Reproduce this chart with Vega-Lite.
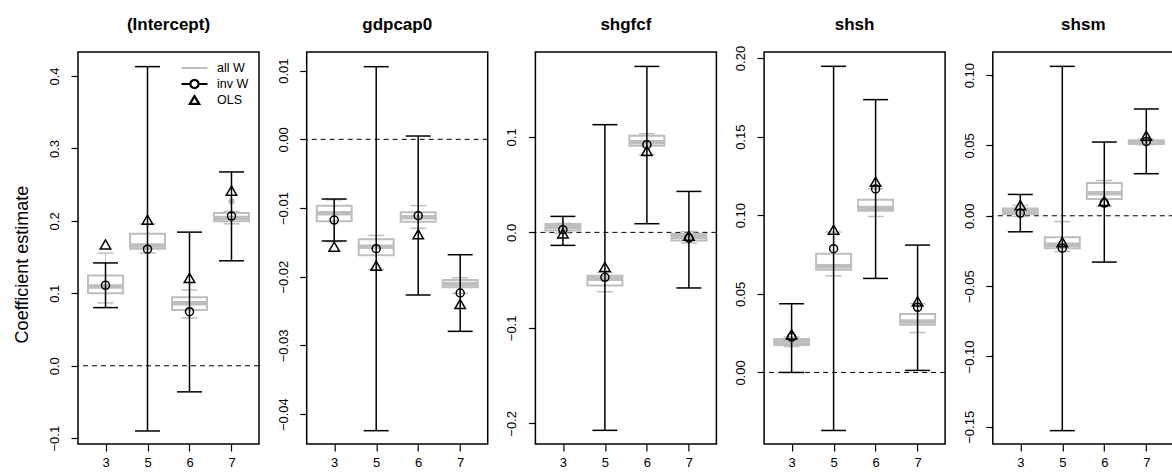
{
  "$schema": "https://vega.github.io/schema/vega-lite/v6.json",
  "padding": {"left": 12, "top": 14, "right": 0, "bottom": 0},
  "bounds": "flush",
  "spacing": 47.7,
  "resolve": {"legend": {"opacity": "independent"}},
  "config": {
    "font": "Liberation Sans",
    "view": {"stroke": "black", "strokeWidth": 1.5},
    "title": {"font": "Liberation Sans", "fontSize": 17, "fontWeight": "bold", "color": "black", "offset": 18, "anchor": "middle", "frame": "group"},
    "axis": {"domain": false, "grid": false, "tickColor": "black", "tickWidth": 1.2, "labelColor": "black", "labelFont": "Liberation Sans", "labelFontSize": 13, "titleFont": "Liberation Sans", "titleColor": "black"},
    "axisY": {"labelAngle": 270, "labelAlign": "center", "labelBaseline": "alphabetic", "tickSize": 7, "labelPadding": 12.5, "labelOverlap": false, "labelFlush": false, "titleFontSize": 18, "titleFontWeight": "normal"},
    "axisX": {"labelAngle": 0, "tickSize": 7, "labelPadding": 5, "labelBaseline": "top"}
  },
  "datasets": {
    "box": [
      {"coef": "(Intercept)", "k": "3", "lo": 0.0868, "q1": 0.100, "med": 0.1095, "q3": 0.1246, "hi": 0.1555},
      {"coef": "(Intercept)", "k": "5", "lo": 0.1555, "q1": 0.1615, "med": 0.166, "q3": 0.1822, "hi": 0.196},
      {"coef": "(Intercept)", "k": "6", "lo": 0.066, "q1": 0.077, "med": 0.0863, "q3": 0.0946, "hi": 0.1047},
      {"coef": "(Intercept)", "k": "7", "lo": 0.196, "q1": 0.1997, "med": 0.204, "q3": 0.2108, "hi": 0.213},
      {"coef": "gdpcap0", "k": "3", "lo": -0.0149, "q1": -0.01194, "med": -0.01077, "q3": -0.00966, "hi": -0.0088},
      {"coef": "gdpcap0", "k": "5", "lo": -0.01893, "q1": -0.01689, "med": -0.01563, "q3": -0.01456, "hi": -0.01398},
      {"coef": "gdpcap0", "k": "6", "lo": -0.01296, "q1": -0.012, "med": -0.01135, "q3": -0.01063, "hi": -0.00966},
      {"coef": "gdpcap0", "k": "7", "lo": -0.02242, "q1": -0.02155, "med": -0.02106, "q3": -0.02048, "hi": -0.02015},
      {"coef": "shgfcf", "k": "3", "lo": -0.001, "q1": 0.0021, "med": 0.0056, "q3": 0.0088, "hi": 0.0095},
      {"coef": "shgfcf", "k": "5", "lo": -0.0621, "q1": -0.0555, "med": -0.0485, "q3": -0.0453, "hi": -0.0419},
      {"coef": "shgfcf", "k": "6", "lo": 0.0814, "q1": 0.0908, "med": 0.0945, "q3": 0.1013, "hi": 0.1033},
      {"coef": "shgfcf", "k": "7", "lo": -0.0111, "q1": -0.0084, "med": -0.0048, "q3": -0.0017, "hi": 0.0007},
      {"coef": "shsh", "k": "3", "lo": 0.0165, "q1": 0.0174, "med": 0.0193, "q3": 0.0212, "hi": 0.0225},
      {"coef": "shsh", "k": "5", "lo": 0.0615, "q1": 0.0653, "med": 0.0675, "q3": 0.0755, "hi": 0.0893},
      {"coef": "shsh", "k": "6", "lo": 0.0992, "q1": 0.1029, "med": 0.1046, "q3": 0.1099, "hi": 0.1169},
      {"coef": "shsh", "k": "7", "lo": 0.0254, "q1": 0.0303, "med": 0.0324, "q3": 0.0371, "hi": 0.0437},
      {"coef": "shsm", "k": "3", "lo": -0.0005, "q1": 0.0012, "med": 0.0031, "q3": 0.0052, "hi": 0.0073},
      {"coef": "shsm", "k": "5", "lo": -0.0254, "q1": -0.023, "med": -0.0206, "q3": -0.0152, "hi": -0.0041},
      {"coef": "shsm", "k": "6", "lo": 0.0066, "q1": 0.0119, "med": 0.0161, "q3": 0.0233, "hi": 0.0251},
      {"coef": "shsm", "k": "7", "lo": 0.0505, "q1": 0.051, "med": 0.0521, "q3": 0.0536, "hi": 0.0545}
    ],
    "out": [
      {"coef": "(Intercept)", "k": "7", "value": 0.227}
    ],
    "est": [
      {"coef": "(Intercept)", "k": "3", "series": "inv W", "value": 0.111, "lower": 0.0803, "upper": 0.142},
      {"coef": "(Intercept)", "k": "5", "series": "inv W", "value": 0.161, "lower": -0.090, "upper": 0.413},
      {"coef": "(Intercept)", "k": "6", "series": "inv W", "value": 0.0747, "lower": -0.036, "upper": 0.1845},
      {"coef": "(Intercept)", "k": "7", "series": "inv W", "value": 0.2067, "lower": 0.1449, "upper": 0.2676},
      {"coef": "(Intercept)", "k": "3", "series": "OLS", "value": 0.1675},
      {"coef": "(Intercept)", "k": "5", "series": "OLS", "value": 0.2016},
      {"coef": "(Intercept)", "k": "6", "series": "OLS", "value": 0.1213},
      {"coef": "(Intercept)", "k": "7", "series": "OLS", "value": 0.2418},
      {"coef": "gdpcap0", "k": "3", "series": "inv W", "value": -0.01175, "lower": -0.0148, "upper": -0.00869},
      {"coef": "gdpcap0", "k": "5", "series": "inv W", "value": -0.01592, "lower": -0.04241, "upper": 0.01057},
      {"coef": "gdpcap0", "k": "6", "series": "inv W", "value": -0.01112, "lower": -0.02266, "upper": 0.00048},
      {"coef": "gdpcap0", "k": "7", "series": "inv W", "value": -0.02237, "lower": -0.02795, "upper": -0.0168},
      {"coef": "gdpcap0", "k": "3", "series": "OLS", "value": -0.01563},
      {"coef": "gdpcap0", "k": "5", "series": "OLS", "value": -0.0184},
      {"coef": "gdpcap0", "k": "6", "series": "OLS", "value": -0.01383},
      {"coef": "gdpcap0", "k": "7", "series": "OLS", "value": -0.02397},
      {"coef": "shgfcf", "k": "3", "series": "inv W", "value": 0.0028, "lower": -0.0136, "upper": 0.01675},
      {"coef": "shgfcf", "k": "5", "series": "inv W", "value": -0.0471, "lower": -0.2073, "upper": 0.1128},
      {"coef": "shgfcf", "k": "6", "series": "inv W", "value": 0.0918, "lower": 0.0091, "upper": 0.1738},
      {"coef": "shgfcf", "k": "7", "series": "inv W", "value": -0.0059, "lower": -0.0582, "upper": 0.0429},
      {"coef": "shgfcf", "k": "3", "series": "OLS", "value": -0.001},
      {"coef": "shgfcf", "k": "5", "series": "OLS", "value": -0.0362},
      {"coef": "shgfcf", "k": "6", "series": "OLS", "value": 0.0852},
      {"coef": "shgfcf", "k": "7", "series": "OLS", "value": -0.0035},
      {"coef": "shsh", "k": "3", "series": "inv W", "value": 0.0225, "lower": 0.0, "upper": 0.0437},
      {"coef": "shsh", "k": "5", "series": "inv W", "value": 0.0787, "lower": -0.0369, "upper": 0.1947},
      {"coef": "shsh", "k": "6", "series": "inv W", "value": 0.1167, "lower": 0.0598, "upper": 0.1735},
      {"coef": "shsh", "k": "7", "series": "inv W", "value": 0.0414, "lower": 0.0013, "upper": 0.081},
      {"coef": "shsh", "k": "3", "series": "OLS", "value": 0.0242},
      {"coef": "shsh", "k": "5", "series": "OLS", "value": 0.0908},
      {"coef": "shsh", "k": "6", "series": "OLS", "value": 0.1213},
      {"coef": "shsh", "k": "7", "series": "OLS", "value": 0.0452},
      {"coef": "shsm", "k": "3", "series": "inv W", "value": 0.0019, "lower": -0.0114, "upper": 0.0152},
      {"coef": "shsm", "k": "5", "series": "inv W", "value": -0.023, "lower": -0.1527, "upper": 0.1062},
      {"coef": "shsm", "k": "6", "series": "inv W", "value": 0.009, "lower": -0.0329, "upper": 0.0524},
      {"coef": "shsm", "k": "7", "series": "inv W", "value": 0.0528, "lower": 0.0299, "upper": 0.0759},
      {"coef": "shsm", "k": "3", "series": "OLS", "value": 0.0076},
      {"coef": "shsm", "k": "5", "series": "OLS", "value": -0.0187},
      {"coef": "shsm", "k": "6", "series": "OLS", "value": 0.0105},
      {"coef": "shsm", "k": "7", "series": "OLS", "value": 0.0569}
    ]
  },
  "hconcat": [
    {
      "width": 181, "height": 392,
      "title": {"text": "(Intercept)"},
      "layer": [
        {"data": {"values": [{"ref": 0}]}, "mark": {"type": "rule", "strokeDash": [5, 4], "color": "black", "strokeWidth": 1},
         "encoding": {"y": {"field": "ref", "type": "quantitative", "scale": {"domain": [-0.108, 0.4332], "nice": false, "zero": false},
           "axis": {"values": [-0.1, 0, 0.1, 0.2, 0.3, 0.4], "format": ".1f", "title": "Coefficient estimate", "titleFontSize": 18, "titleFontWeight": "normal", "titleX": -51, "titleY": 212, "titleAngle": 270, "titleAlign": "center", "titleBaseline": "alphabetic"}}}},
        {"data": {"name": "box"}, "transform": [{"filter": "datum.coef === '(Intercept)'"}], "mark": {"type": "rule", "color": "#BEBEBE", "strokeWidth": 1},
         "encoding": {"x": {"field": "k", "type": "ordinal", "scale": {"type": "point", "domain": ["3", "5", "6", "7"], "padding": 0.655}, "axis": {"title": null}}, "y": {"field": "lo", "type": "quantitative"}, "y2": {"field": "hi"}}},
        {"data": {"name": "box"}, "transform": [{"filter": "datum.coef === '(Intercept)'"}], "mark": {"type": "tick", "color": "#BEBEBE", "size": 16, "thickness": 1.5, "opacity": 1},
         "encoding": {"x": {"field": "k", "type": "ordinal", "scale": {"type": "point", "domain": ["3", "5", "6", "7"], "padding": 0.655}}, "y": {"field": "lo", "type": "quantitative"}}},
        {"data": {"name": "box"}, "transform": [{"filter": "datum.coef === '(Intercept)'"}], "mark": {"type": "tick", "color": "#BEBEBE", "size": 16, "thickness": 1.5, "opacity": 1},
         "encoding": {"x": {"field": "k", "type": "ordinal", "scale": {"type": "point", "domain": ["3", "5", "6", "7"], "padding": 0.655}}, "y": {"field": "hi", "type": "quantitative"}}},
        {"data": {"name": "box"}, "transform": [{"filter": "datum.coef === '(Intercept)'"}], "mark": {"type": "bar", "size": 35, "fill": "white", "stroke": "#BEBEBE", "strokeWidth": 2},
         "encoding": {"x": {"field": "k", "type": "ordinal", "scale": {"type": "point", "domain": ["3", "5", "6", "7"], "padding": 0.655}}, "y": {"field": "q1", "type": "quantitative"}, "y2": {"field": "q3"}}},
        {"data": {"name": "box"}, "transform": [{"filter": "datum.coef === '(Intercept)'"}], "mark": {"type": "tick", "color": "#BEBEBE", "size": 35, "thickness": 4.5, "opacity": 1},
         "encoding": {"x": {"field": "k", "type": "ordinal", "scale": {"type": "point", "domain": ["3", "5", "6", "7"], "padding": 0.655}}, "y": {"field": "med", "type": "quantitative"}}},
        {"data": {"name": "out"}, "transform": [{"filter": "datum.coef === '(Intercept)'"}], "mark": {"type": "point", "filled": true, "color": "#BEBEBE", "size": 40, "opacity": 1},
         "encoding": {"x": {"field": "k", "type": "ordinal", "scale": {"type": "point", "domain": ["3", "5", "6", "7"], "padding": 0.655}}, "y": {"field": "value", "type": "quantitative"}}},
        {"data": {"name": "est"}, "transform": [{"filter": "datum.coef === '(Intercept)' && datum.series === 'inv W'"}], "mark": {"type": "rule", "color": "black", "strokeWidth": 1.5},
         "encoding": {"x": {"field": "k", "type": "ordinal", "scale": {"type": "point", "domain": ["3", "5", "6", "7"], "padding": 0.655}}, "y": {"field": "lower", "type": "quantitative"}, "y2": {"field": "upper"}}},
        {"data": {"name": "est"}, "transform": [{"filter": "datum.coef === '(Intercept)' && datum.series === 'inv W'"}], "mark": {"type": "tick", "color": "black", "size": 25, "thickness": 1.5, "opacity": 1},
         "encoding": {"x": {"field": "k", "type": "ordinal", "scale": {"type": "point", "domain": ["3", "5", "6", "7"], "padding": 0.655}}, "y": {"field": "lower", "type": "quantitative"}}},
        {"data": {"name": "est"}, "transform": [{"filter": "datum.coef === '(Intercept)' && datum.series === 'inv W'"}], "mark": {"type": "tick", "color": "black", "size": 25, "thickness": 1.5, "opacity": 1},
         "encoding": {"x": {"field": "k", "type": "ordinal", "scale": {"type": "point", "domain": ["3", "5", "6", "7"], "padding": 0.655}}, "y": {"field": "upper", "type": "quantitative"}}},
        {"data": {"name": "est"}, "transform": [{"filter": "datum.coef === '(Intercept)' && datum.series === 'inv W'"}], "mark": {"type": "point", "shape": "circle", "filled": false, "color": "black", "size": 64, "strokeWidth": 1.5},
         "encoding": {"x": {"field": "k", "type": "ordinal", "scale": {"type": "point", "domain": ["3", "5", "6", "7"], "padding": 0.655}}, "y": {"field": "value", "type": "quantitative"},
           "opacity": {"field": "series", "type": "ordinal", "scale": {"type": "ordinal", "domain": ["all W", "inv W", "OLS"], "range": [1, 1, 1]},
             "legend": {"orient": "none", "legendX": 102, "legendY": 8, "title": null, "padding": 0, "symbolSize": 676, "clipHeight": 16, "rowPadding": 0, "labelFontSize": 12.5, "labelFont": "Liberation Sans", "labelColor": "black", "labelOffset": 8, "symbolStrokeWidth": 2.2, "symbolFillColor": "transparent", "symbolOpacity": 1,
               "symbolType": {"expr": "datum.value === 'all W' ? 'stroke' : datum.value === 'inv W' ? 'M-1,0L-0.32,0M0.32,0L1,0M0.32,0L0.277,0.16L0.16,0.277L0,0.32L-0.16,0.277L-0.277,0.16L-0.32,0L-0.277,-0.16L-0.16,-0.277L0,-0.32L0.16,-0.277L0.277,-0.16Z' : 'M0,-0.3L0.36,0.3L-0.36,0.3Z'"},
               "symbolStrokeColor": {"expr": "datum.value === 'all W' ? '#BEBEBE' : 'black'"}}}}},
        {"data": {"name": "est"}, "transform": [{"filter": "datum.coef === '(Intercept)' && datum.series === 'OLS'"}], "mark": {"type": "point", "shape": "triangle-up", "filled": false, "color": "black", "size": 110, "strokeWidth": 1.5, "opacity": 1},
         "encoding": {"x": {"field": "k", "type": "ordinal", "scale": {"type": "point", "domain": ["3", "5", "6", "7"], "padding": 0.655}}, "y": {"field": "value", "type": "quantitative"}}}
      ]
    },
    {
      "width": 181, "height": 392,
      "title": {"text": "gdpcap0"},
      "layer": [
        {"data": {"values": [{"ref": 0}]}, "mark": {"type": "rule", "strokeDash": [5, 4], "color": "black", "strokeWidth": 1},
         "encoding": {"y": {"field": "ref", "type": "quantitative", "scale": {"domain": [-0.04435, 0.01271], "nice": false, "zero": false},
           "axis": {"values": [-0.04, -0.03, -0.02, -0.01, 0, 0.01], "format": ".2f", "title": null}}}},
        {"data": {"name": "box"}, "transform": [{"filter": "datum.coef === 'gdpcap0'"}], "mark": {"type": "rule", "color": "#BEBEBE", "strokeWidth": 1},
         "encoding": {"x": {"field": "k", "type": "ordinal", "scale": {"type": "point", "domain": ["3", "5", "6", "7"], "padding": 0.655}, "axis": {"title": null}}, "y": {"field": "lo", "type": "quantitative"}, "y2": {"field": "hi"}}},
        {"data": {"name": "box"}, "transform": [{"filter": "datum.coef === 'gdpcap0'"}], "mark": {"type": "tick", "color": "#BEBEBE", "size": 16, "thickness": 1.5, "opacity": 1},
         "encoding": {"x": {"field": "k", "type": "ordinal", "scale": {"type": "point", "domain": ["3", "5", "6", "7"], "padding": 0.655}}, "y": {"field": "lo", "type": "quantitative"}}},
        {"data": {"name": "box"}, "transform": [{"filter": "datum.coef === 'gdpcap0'"}], "mark": {"type": "tick", "color": "#BEBEBE", "size": 16, "thickness": 1.5, "opacity": 1},
         "encoding": {"x": {"field": "k", "type": "ordinal", "scale": {"type": "point", "domain": ["3", "5", "6", "7"], "padding": 0.655}}, "y": {"field": "hi", "type": "quantitative"}}},
        {"data": {"name": "box"}, "transform": [{"filter": "datum.coef === 'gdpcap0'"}], "mark": {"type": "bar", "size": 35, "fill": "white", "stroke": "#BEBEBE", "strokeWidth": 2},
         "encoding": {"x": {"field": "k", "type": "ordinal", "scale": {"type": "point", "domain": ["3", "5", "6", "7"], "padding": 0.655}}, "y": {"field": "q1", "type": "quantitative"}, "y2": {"field": "q3"}}},
        {"data": {"name": "box"}, "transform": [{"filter": "datum.coef === 'gdpcap0'"}], "mark": {"type": "tick", "color": "#BEBEBE", "size": 35, "thickness": 4.5, "opacity": 1},
         "encoding": {"x": {"field": "k", "type": "ordinal", "scale": {"type": "point", "domain": ["3", "5", "6", "7"], "padding": 0.655}}, "y": {"field": "med", "type": "quantitative"}}},
        {"data": {"name": "est"}, "transform": [{"filter": "datum.coef === 'gdpcap0' && datum.series === 'inv W'"}], "mark": {"type": "rule", "color": "black", "strokeWidth": 1.5},
         "encoding": {"x": {"field": "k", "type": "ordinal", "scale": {"type": "point", "domain": ["3", "5", "6", "7"], "padding": 0.655}}, "y": {"field": "lower", "type": "quantitative"}, "y2": {"field": "upper"}}},
        {"data": {"name": "est"}, "transform": [{"filter": "datum.coef === 'gdpcap0' && datum.series === 'inv W'"}], "mark": {"type": "tick", "color": "black", "size": 25, "thickness": 1.5, "opacity": 1},
         "encoding": {"x": {"field": "k", "type": "ordinal", "scale": {"type": "point", "domain": ["3", "5", "6", "7"], "padding": 0.655}}, "y": {"field": "lower", "type": "quantitative"}}},
        {"data": {"name": "est"}, "transform": [{"filter": "datum.coef === 'gdpcap0' && datum.series === 'inv W'"}], "mark": {"type": "tick", "color": "black", "size": 25, "thickness": 1.5, "opacity": 1},
         "encoding": {"x": {"field": "k", "type": "ordinal", "scale": {"type": "point", "domain": ["3", "5", "6", "7"], "padding": 0.655}}, "y": {"field": "upper", "type": "quantitative"}}},
        {"data": {"name": "est"}, "transform": [{"filter": "datum.coef === 'gdpcap0' && datum.series === 'inv W'"}], "mark": {"type": "point", "shape": "circle", "filled": false, "color": "black", "size": 64, "strokeWidth": 1.5, "opacity": 1},
         "encoding": {"x": {"field": "k", "type": "ordinal", "scale": {"type": "point", "domain": ["3", "5", "6", "7"], "padding": 0.655}}, "y": {"field": "value", "type": "quantitative"}}},
        {"data": {"name": "est"}, "transform": [{"filter": "datum.coef === 'gdpcap0' && datum.series === 'OLS'"}], "mark": {"type": "point", "shape": "triangle-up", "filled": false, "color": "black", "size": 110, "strokeWidth": 1.5, "opacity": 1},
         "encoding": {"x": {"field": "k", "type": "ordinal", "scale": {"type": "point", "domain": ["3", "5", "6", "7"], "padding": 0.655}}, "y": {"field": "value", "type": "quantitative"}}}
      ]
    },
    {
      "width": 181, "height": 392,
      "title": {"text": "shgfcf"},
      "layer": [
        {"data": {"values": [{"ref": 0}]}, "mark": {"type": "rule", "strokeDash": [5, 4], "color": "black", "strokeWidth": 1},
         "encoding": {"y": {"field": "ref", "type": "quantitative", "scale": {"domain": [-0.2216, 0.1889], "nice": false, "zero": false},
           "axis": {"values": [-0.2, -0.1, 0, 0.1], "format": ".1f", "title": null}}}},
        {"data": {"name": "box"}, "transform": [{"filter": "datum.coef === 'shgfcf'"}], "mark": {"type": "rule", "color": "#BEBEBE", "strokeWidth": 1},
         "encoding": {"x": {"field": "k", "type": "ordinal", "scale": {"type": "point", "domain": ["3", "5", "6", "7"], "padding": 0.655}, "axis": {"title": null}}, "y": {"field": "lo", "type": "quantitative"}, "y2": {"field": "hi"}}},
        {"data": {"name": "box"}, "transform": [{"filter": "datum.coef === 'shgfcf'"}], "mark": {"type": "tick", "color": "#BEBEBE", "size": 16, "thickness": 1.5, "opacity": 1},
         "encoding": {"x": {"field": "k", "type": "ordinal", "scale": {"type": "point", "domain": ["3", "5", "6", "7"], "padding": 0.655}}, "y": {"field": "lo", "type": "quantitative"}}},
        {"data": {"name": "box"}, "transform": [{"filter": "datum.coef === 'shgfcf'"}], "mark": {"type": "tick", "color": "#BEBEBE", "size": 16, "thickness": 1.5, "opacity": 1},
         "encoding": {"x": {"field": "k", "type": "ordinal", "scale": {"type": "point", "domain": ["3", "5", "6", "7"], "padding": 0.655}}, "y": {"field": "hi", "type": "quantitative"}}},
        {"data": {"name": "box"}, "transform": [{"filter": "datum.coef === 'shgfcf'"}], "mark": {"type": "bar", "size": 35, "fill": "white", "stroke": "#BEBEBE", "strokeWidth": 2},
         "encoding": {"x": {"field": "k", "type": "ordinal", "scale": {"type": "point", "domain": ["3", "5", "6", "7"], "padding": 0.655}}, "y": {"field": "q1", "type": "quantitative"}, "y2": {"field": "q3"}}},
        {"data": {"name": "box"}, "transform": [{"filter": "datum.coef === 'shgfcf'"}], "mark": {"type": "tick", "color": "#BEBEBE", "size": 35, "thickness": 4.5, "opacity": 1},
         "encoding": {"x": {"field": "k", "type": "ordinal", "scale": {"type": "point", "domain": ["3", "5", "6", "7"], "padding": 0.655}}, "y": {"field": "med", "type": "quantitative"}}},
        {"data": {"name": "est"}, "transform": [{"filter": "datum.coef === 'shgfcf' && datum.series === 'inv W'"}], "mark": {"type": "rule", "color": "black", "strokeWidth": 1.5},
         "encoding": {"x": {"field": "k", "type": "ordinal", "scale": {"type": "point", "domain": ["3", "5", "6", "7"], "padding": 0.655}}, "y": {"field": "lower", "type": "quantitative"}, "y2": {"field": "upper"}}},
        {"data": {"name": "est"}, "transform": [{"filter": "datum.coef === 'shgfcf' && datum.series === 'inv W'"}], "mark": {"type": "tick", "color": "black", "size": 25, "thickness": 1.5, "opacity": 1},
         "encoding": {"x": {"field": "k", "type": "ordinal", "scale": {"type": "point", "domain": ["3", "5", "6", "7"], "padding": 0.655}}, "y": {"field": "lower", "type": "quantitative"}}},
        {"data": {"name": "est"}, "transform": [{"filter": "datum.coef === 'shgfcf' && datum.series === 'inv W'"}], "mark": {"type": "tick", "color": "black", "size": 25, "thickness": 1.5, "opacity": 1},
         "encoding": {"x": {"field": "k", "type": "ordinal", "scale": {"type": "point", "domain": ["3", "5", "6", "7"], "padding": 0.655}}, "y": {"field": "upper", "type": "quantitative"}}},
        {"data": {"name": "est"}, "transform": [{"filter": "datum.coef === 'shgfcf' && datum.series === 'inv W'"}], "mark": {"type": "point", "shape": "circle", "filled": false, "color": "black", "size": 64, "strokeWidth": 1.5, "opacity": 1},
         "encoding": {"x": {"field": "k", "type": "ordinal", "scale": {"type": "point", "domain": ["3", "5", "6", "7"], "padding": 0.655}}, "y": {"field": "value", "type": "quantitative"}}},
        {"data": {"name": "est"}, "transform": [{"filter": "datum.coef === 'shgfcf' && datum.series === 'OLS'"}], "mark": {"type": "point", "shape": "triangle-up", "filled": false, "color": "black", "size": 110, "strokeWidth": 1.5, "opacity": 1},
         "encoding": {"x": {"field": "k", "type": "ordinal", "scale": {"type": "point", "domain": ["3", "5", "6", "7"], "padding": 0.655}}, "y": {"field": "value", "type": "quantitative"}}}
      ]
    },
    {
      "width": 181, "height": 392,
      "title": {"text": "shsh", "offset": 11.7},
      "layer": [
        {"data": {"values": [{"ref": 0}]}, "mark": {"type": "rule", "strokeDash": [5, 4], "color": "black", "strokeWidth": 1},
         "encoding": {"y": {"field": "ref", "type": "quantitative", "scale": {"domain": [-0.0455, 0.2038], "nice": false, "zero": false},
           "axis": {"values": [0, 0.05, 0.1, 0.15, 0.2], "format": ".2f", "title": null}}}},
        {"data": {"name": "box"}, "transform": [{"filter": "datum.coef === 'shsh'"}], "mark": {"type": "rule", "color": "#BEBEBE", "strokeWidth": 1},
         "encoding": {"x": {"field": "k", "type": "ordinal", "scale": {"type": "point", "domain": ["3", "5", "6", "7"], "padding": 0.655}, "axis": {"title": null}}, "y": {"field": "lo", "type": "quantitative"}, "y2": {"field": "hi"}}},
        {"data": {"name": "box"}, "transform": [{"filter": "datum.coef === 'shsh'"}], "mark": {"type": "tick", "color": "#BEBEBE", "size": 16, "thickness": 1.5, "opacity": 1},
         "encoding": {"x": {"field": "k", "type": "ordinal", "scale": {"type": "point", "domain": ["3", "5", "6", "7"], "padding": 0.655}}, "y": {"field": "lo", "type": "quantitative"}}},
        {"data": {"name": "box"}, "transform": [{"filter": "datum.coef === 'shsh'"}], "mark": {"type": "tick", "color": "#BEBEBE", "size": 16, "thickness": 1.5, "opacity": 1},
         "encoding": {"x": {"field": "k", "type": "ordinal", "scale": {"type": "point", "domain": ["3", "5", "6", "7"], "padding": 0.655}}, "y": {"field": "hi", "type": "quantitative"}}},
        {"data": {"name": "box"}, "transform": [{"filter": "datum.coef === 'shsh'"}], "mark": {"type": "bar", "size": 35, "fill": "white", "stroke": "#BEBEBE", "strokeWidth": 2},
         "encoding": {"x": {"field": "k", "type": "ordinal", "scale": {"type": "point", "domain": ["3", "5", "6", "7"], "padding": 0.655}}, "y": {"field": "q1", "type": "quantitative"}, "y2": {"field": "q3"}}},
        {"data": {"name": "box"}, "transform": [{"filter": "datum.coef === 'shsh'"}], "mark": {"type": "tick", "color": "#BEBEBE", "size": 35, "thickness": 4.5, "opacity": 1},
         "encoding": {"x": {"field": "k", "type": "ordinal", "scale": {"type": "point", "domain": ["3", "5", "6", "7"], "padding": 0.655}}, "y": {"field": "med", "type": "quantitative"}}},
        {"data": {"name": "est"}, "transform": [{"filter": "datum.coef === 'shsh' && datum.series === 'inv W'"}], "mark": {"type": "rule", "color": "black", "strokeWidth": 1.5},
         "encoding": {"x": {"field": "k", "type": "ordinal", "scale": {"type": "point", "domain": ["3", "5", "6", "7"], "padding": 0.655}}, "y": {"field": "lower", "type": "quantitative"}, "y2": {"field": "upper"}}},
        {"data": {"name": "est"}, "transform": [{"filter": "datum.coef === 'shsh' && datum.series === 'inv W'"}], "mark": {"type": "tick", "color": "black", "size": 25, "thickness": 1.5, "opacity": 1},
         "encoding": {"x": {"field": "k", "type": "ordinal", "scale": {"type": "point", "domain": ["3", "5", "6", "7"], "padding": 0.655}}, "y": {"field": "lower", "type": "quantitative"}}},
        {"data": {"name": "est"}, "transform": [{"filter": "datum.coef === 'shsh' && datum.series === 'inv W'"}], "mark": {"type": "tick", "color": "black", "size": 25, "thickness": 1.5, "opacity": 1},
         "encoding": {"x": {"field": "k", "type": "ordinal", "scale": {"type": "point", "domain": ["3", "5", "6", "7"], "padding": 0.655}}, "y": {"field": "upper", "type": "quantitative"}}},
        {"data": {"name": "est"}, "transform": [{"filter": "datum.coef === 'shsh' && datum.series === 'inv W'"}], "mark": {"type": "point", "shape": "circle", "filled": false, "color": "black", "size": 64, "strokeWidth": 1.5, "opacity": 1},
         "encoding": {"x": {"field": "k", "type": "ordinal", "scale": {"type": "point", "domain": ["3", "5", "6", "7"], "padding": 0.655}}, "y": {"field": "value", "type": "quantitative"}}},
        {"data": {"name": "est"}, "transform": [{"filter": "datum.coef === 'shsh' && datum.series === 'OLS'"}], "mark": {"type": "point", "shape": "triangle-up", "filled": false, "color": "black", "size": 110, "strokeWidth": 1.5, "opacity": 1},
         "encoding": {"x": {"field": "k", "type": "ordinal", "scale": {"type": "point", "domain": ["3", "5", "6", "7"], "padding": 0.655}}, "y": {"field": "value", "type": "quantitative"}}}
      ]
    },
    {
      "width": 181, "height": 392,
      "title": {"text": "shsm"},
      "layer": [
        {"data": {"values": [{"ref": 0}]}, "mark": {"type": "rule", "strokeDash": [5, 4], "color": "black", "strokeWidth": 1},
         "encoding": {"y": {"field": "ref", "type": "quantitative", "scale": {"domain": [-0.1622, 0.1164], "nice": false, "zero": false},
           "axis": {"values": [-0.15, -0.1, -0.05, 0, 0.05, 0.1], "format": ".2f", "title": null}}}},
        {"data": {"name": "box"}, "transform": [{"filter": "datum.coef === 'shsm'"}], "mark": {"type": "rule", "color": "#BEBEBE", "strokeWidth": 1},
         "encoding": {"x": {"field": "k", "type": "ordinal", "scale": {"type": "point", "domain": ["3", "5", "6", "7"], "padding": 0.655}, "axis": {"title": null}}, "y": {"field": "lo", "type": "quantitative"}, "y2": {"field": "hi"}}},
        {"data": {"name": "box"}, "transform": [{"filter": "datum.coef === 'shsm'"}], "mark": {"type": "tick", "color": "#BEBEBE", "size": 16, "thickness": 1.5, "opacity": 1},
         "encoding": {"x": {"field": "k", "type": "ordinal", "scale": {"type": "point", "domain": ["3", "5", "6", "7"], "padding": 0.655}}, "y": {"field": "lo", "type": "quantitative"}}},
        {"data": {"name": "box"}, "transform": [{"filter": "datum.coef === 'shsm'"}], "mark": {"type": "tick", "color": "#BEBEBE", "size": 16, "thickness": 1.5, "opacity": 1},
         "encoding": {"x": {"field": "k", "type": "ordinal", "scale": {"type": "point", "domain": ["3", "5", "6", "7"], "padding": 0.655}}, "y": {"field": "hi", "type": "quantitative"}}},
        {"data": {"name": "box"}, "transform": [{"filter": "datum.coef === 'shsm'"}], "mark": {"type": "bar", "size": 35, "fill": "white", "stroke": "#BEBEBE", "strokeWidth": 2},
         "encoding": {"x": {"field": "k", "type": "ordinal", "scale": {"type": "point", "domain": ["3", "5", "6", "7"], "padding": 0.655}}, "y": {"field": "q1", "type": "quantitative"}, "y2": {"field": "q3"}}},
        {"data": {"name": "box"}, "transform": [{"filter": "datum.coef === 'shsm'"}], "mark": {"type": "tick", "color": "#BEBEBE", "size": 35, "thickness": 4.5, "opacity": 1},
         "encoding": {"x": {"field": "k", "type": "ordinal", "scale": {"type": "point", "domain": ["3", "5", "6", "7"], "padding": 0.655}}, "y": {"field": "med", "type": "quantitative"}}},
        {"data": {"name": "est"}, "transform": [{"filter": "datum.coef === 'shsm' && datum.series === 'inv W'"}], "mark": {"type": "rule", "color": "black", "strokeWidth": 1.5},
         "encoding": {"x": {"field": "k", "type": "ordinal", "scale": {"type": "point", "domain": ["3", "5", "6", "7"], "padding": 0.655}}, "y": {"field": "lower", "type": "quantitative"}, "y2": {"field": "upper"}}},
        {"data": {"name": "est"}, "transform": [{"filter": "datum.coef === 'shsm' && datum.series === 'inv W'"}], "mark": {"type": "tick", "color": "black", "size": 25, "thickness": 1.5, "opacity": 1},
         "encoding": {"x": {"field": "k", "type": "ordinal", "scale": {"type": "point", "domain": ["3", "5", "6", "7"], "padding": 0.655}}, "y": {"field": "lower", "type": "quantitative"}}},
        {"data": {"name": "est"}, "transform": [{"filter": "datum.coef === 'shsm' && datum.series === 'inv W'"}], "mark": {"type": "tick", "color": "black", "size": 25, "thickness": 1.5, "opacity": 1},
         "encoding": {"x": {"field": "k", "type": "ordinal", "scale": {"type": "point", "domain": ["3", "5", "6", "7"], "padding": 0.655}}, "y": {"field": "upper", "type": "quantitative"}}},
        {"data": {"name": "est"}, "transform": [{"filter": "datum.coef === 'shsm' && datum.series === 'inv W'"}], "mark": {"type": "point", "shape": "circle", "filled": false, "color": "black", "size": 64, "strokeWidth": 1.5, "opacity": 1},
         "encoding": {"x": {"field": "k", "type": "ordinal", "scale": {"type": "point", "domain": ["3", "5", "6", "7"], "padding": 0.655}}, "y": {"field": "value", "type": "quantitative"}}},
        {"data": {"name": "est"}, "transform": [{"filter": "datum.coef === 'shsm' && datum.series === 'OLS'"}], "mark": {"type": "point", "shape": "triangle-up", "filled": false, "color": "black", "size": 110, "strokeWidth": 1.5, "opacity": 1},
         "encoding": {"x": {"field": "k", "type": "ordinal", "scale": {"type": "point", "domain": ["3", "5", "6", "7"], "padding": 0.655}}, "y": {"field": "value", "type": "quantitative"}}}
      ]
    }
  ]
}
